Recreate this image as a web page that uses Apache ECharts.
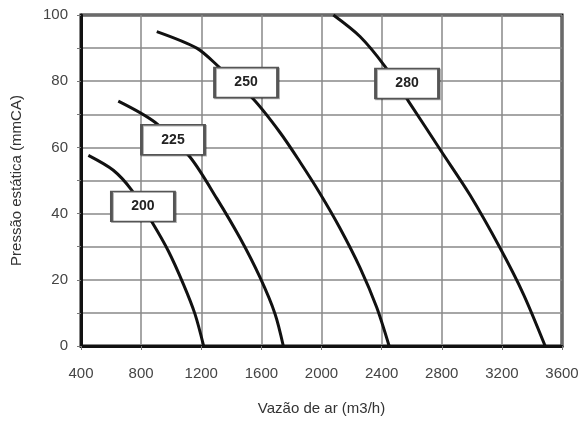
<!DOCTYPE html>
<html>
<head>
<meta charset="utf-8">
<script src="https://cdn.jsdelivr.net/npm/echarts@6/dist/echarts.min.js"></script>
<style>
html,body{margin:0;padding:0;background:#fff;}
#c{width:583px;height:421px;}
</style>
</head>
<body>
<div id="c"></div>
<script>
// Data
const curve200X = [449, 615, 737, 870, 981, 1081, 1158, 1216];
const curve200Y = [57.6, 53.1, 47.1, 37.6, 28.7, 18.7, 9.7, 0];
const curve225X = [648, 892, 1125, 1303, 1458, 1591, 1691, 1746];
const curve225Y = [74.0, 67.6, 57.1, 44.6, 32.6, 20.7, 9.7, 0];
const curve250X = [904, 1170, 1313, 1546, 1724, 1857, 1990, 2123, 2256, 2367, 2450];
const curve250Y = [95, 90, 84.5, 74.6, 64.5, 55.6, 46.1, 35.6, 23.7, 11.7, 0];
const curve280X = [2079, 2256, 2422, 2578, 2800, 2988, 3188, 3343, 3488];
const curve280Y = [100, 93.5, 84.5, 74, 58.6, 45.6, 29.6, 15.7, 0];

const labelNames = ['200', '225', '250', '280'];
const labelX = [812, 1012, 1498, 2569];
const labelY = [42.2, 62.3, 79.6, 79.3];

const xTicks = [400, 800, 1200, 1600, 2000, 2400, 2800, 3200, 3600];
const yTicks = [0, 20, 40, 60, 80, 100];

const zip = (xs, ys) => xs.map((x, i) => [x, ys[i]]);
const curves = [
  zip(curve200X, curve200Y),
  zip(curve225X, curve225Y),
  zip(curve250X, curve250Y),
  zip(curve280X, curve280Y)
];

const chart = echarts.init(document.getElementById('c'), null, {renderer: 'canvas'});
const font = 'Liberation Sans, Arial, sans-serif';

const lineSeries = curves.map((d, i) => ({
  type: 'line',
  name: labelNames[i],
  data: d,
  smooth: 0.3,
  symbol: 'none',
  clip: true,
  lineStyle: {color: '#111', width: 3},
  z: 3
}));

chart.setOption({
  animation: false,
  grid: {
    left: 81, top: 15, right: 21, bottom: 72,
    show: true, borderColor: '#111', borderWidth: 3, backgroundColor: '#fff'
  },
  xAxis: {
    type: 'value', min: 400, max: 3600, interval: 400,
    name: 'Vazão de ar (m3/h)', nameLocation: 'middle', nameGap: 55,
    nameTextStyle: {fontFamily: font, fontSize: 15, color: '#333'},
    axisLine: {show: true, lineStyle: {color: '#111', width: 3}},
    axisTick: {show: true, length: 4, lineStyle: {color: '#777'}},
    axisLabel: {fontFamily: font, fontSize: 15, color: '#444', margin: 20,
      formatter: v => xTicks.includes(v) ? String(v) : ''},
    splitLine: {show: true, lineStyle: {color: '#888', width: 1.5}}
  },
  yAxis: {
    type: 'value', min: 0, max: 100, interval: 10,
    name: 'Pressão estática (mmCA)', nameLocation: 'middle', nameGap: 57,
    nameTextStyle: {fontFamily: font, fontSize: 15, color: '#333'},
    axisLine: {show: true, lineStyle: {color: '#111', width: 3}},
    axisTick: {show: true, length: 4, lineStyle: {color: '#777'}},
    axisLabel: {fontFamily: font, fontSize: 15, color: '#444', margin: 13,
      formatter: v => yTicks.includes(v) ? String(v) : ''},
    splitLine: {show: true, lineStyle: {color: '#888', width: 1.5}}
  },
  series: lineSeries.concat([{
    type: 'scatter',
    data: labelNames.map((n, i) => ({name: n, value: [labelX[i], labelY[i]]})),
    symbol: 'rect',
    symbolSize: [63, 30],
    itemStyle: {color: '#fff', opacity: 1, borderColor: '#555', borderWidth: 2,
      shadowColor: 'rgba(0,0,0,0.3)', shadowOffsetX: 1, shadowOffsetY: 1, shadowBlur: 0},
    label: {show: true, position: 'inside', formatter: p => p.name,
      fontFamily: font, fontSize: 14, fontWeight: 'bold', color: '#222'},
    emphasis: {disabled: true},
    z: 5
  }])
});
</script>
</body>
</html>
